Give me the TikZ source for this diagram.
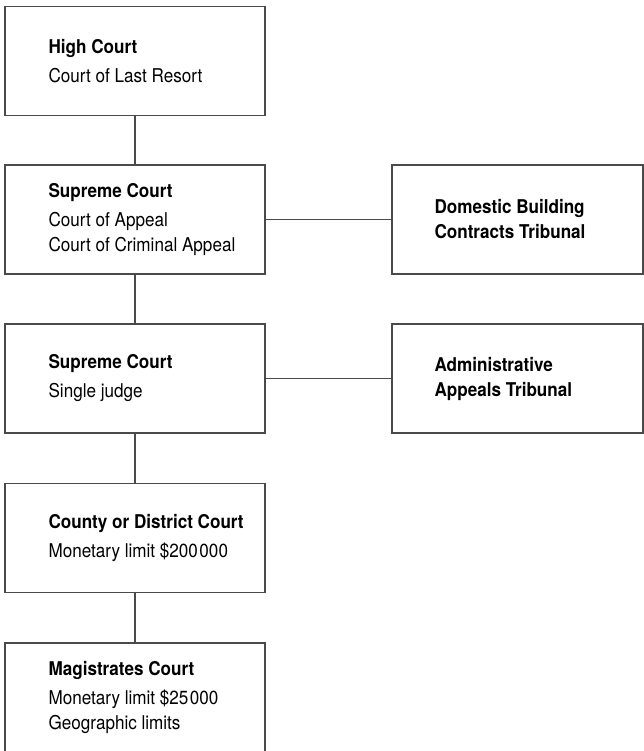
\documentclass[tikz,border=0pt]{standalone}
\usepackage{fontspec}
\setmainfont{TeX Gyre Heros}[FakeStretch=0.9]
\definecolor{linegray}{HTML}{4A4A4A}
\begin{document}
\begin{tikzpicture}[x=1pt,y=-1pt,
  courtbox/.style={draw=linegray, line width=1.3pt, minimum width=260pt, minimum height=109pt, inner sep=0pt},
  tribox/.style={draw=linegray, line width=1.3pt, minimum width=251pt, minimum height=109pt, inner sep=0pt},
  txt/.style={inner sep=0pt, align=left, anchor=west, font=\fontsize{19}{25}\selectfont},
  link/.style={draw=linegray, line width=1.3pt}]
\useasboundingbox (0,0) rectangle (644,751);
\node[courtbox] (b1) at (135,61) {};
\node[courtbox] (b2) at (135,219.5) {};
\node[courtbox] (b3) at (135,378.5) {};
\node[courtbox] (b4) at (135,538) {};
\node[courtbox] (b5) at (135,697.5) {};
\node[tribox] (r1) at (517.5,219.5) {};
\node[tribox] (r2) at (517.5,378.5) {};
\node[txt] (t1) at ([xshift=44pt]b1.west) {\textbf{High Court}\\[4pt]Court of Last Resort};
\node[txt] (t2) at ([xshift=44pt]b2.west) {\textbf{Supreme Court}\\[4pt]Court of Appeal\\Court of Criminal Appeal};
\node[txt] (t3) at ([xshift=44pt]b3.west) {\textbf{Supreme Court}\\[4pt]Single judge};
\node[txt] (t4) at ([xshift=44pt]b4.west) {\textbf{County or District Court}\\[4pt]Monetary limit \$200\kern1.5pt000};
\node[txt] (t5) at ([xshift=44pt]b5.west) {\textbf{Magistrates Court}\\[4pt]Monetary limit \$25\kern1.5pt000\\Geographic limits};
\node[txt] (tr1) at ([xshift=43pt]r1.west) {\textbf{Domestic Building}\\\textbf{Contracts Tribunal}};
\node[txt] (tr2) at ([xshift=43pt]r2.west) {\textbf{Administrative}\\\textbf{Appeals Tribunal}};
\draw[link] (b1.south) -- (b2.north);
\draw[link] (b2.south) -- (b3.north);
\draw[link] (b3.south) -- (b4.north);
\draw[link] (b4.south) -- (b5.north);
\draw[link] (b2.east) -- (r1.west);
\draw[link] (b3.east) -- (r2.west);
\end{tikzpicture}
\end{document}
